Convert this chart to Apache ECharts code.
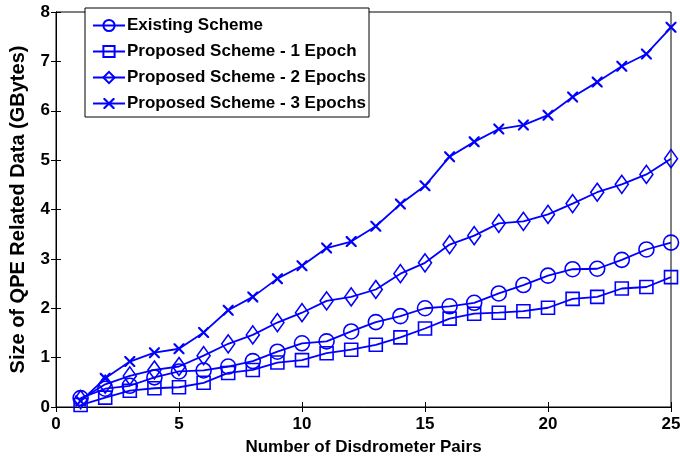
<!DOCTYPE html>
<html><head><meta charset="utf-8">
<script src="https://cdn.jsdelivr.net/npm/echarts@6/dist/echarts.min.js"></script>
<style>html,body{margin:0;padding:0;background:#fff}#c{width:680px;height:459px}</style>
</head><body><div id="c"></div>
<script>
const pairs = [1,2,3,4,5,6,7,8,9,10,11,12,13,14,15,16,17,18,19,20,21,22,23,24,25];
const existing = [0.18,0.37,0.43,0.60,0.72,0.74,0.82,0.93,1.12,1.29,1.33,1.53,1.72,1.84,2.00,2.04,2.11,2.30,2.47,2.66,2.79,2.80,2.98,3.19,3.33];
const epoch1 = [0.04,0.19,0.33,0.38,0.40,0.49,0.69,0.75,0.90,0.95,1.09,1.16,1.26,1.41,1.59,1.79,1.89,1.91,1.94,2.01,2.19,2.23,2.40,2.43,2.63];
const epoch2 = [0.15,0.46,0.63,0.75,0.82,1.04,1.28,1.46,1.71,1.91,2.15,2.23,2.38,2.70,2.92,3.29,3.47,3.72,3.76,3.90,4.12,4.35,4.51,4.71,5.03];
const epoch3 = [0.12,0.58,0.92,1.10,1.18,1.51,1.96,2.23,2.60,2.86,3.22,3.35,3.66,4.11,4.48,5.07,5.37,5.63,5.71,5.91,6.28,6.58,6.90,7.15,7.69];
const names = ['Existing Scheme','Proposed Scheme - 1 Epoch','Proposed Scheme - 2 Epochs','Proposed Scheme - 3 Epochs'];

const BLUE = '#0000ff';
const FONT = '"Liberation Sans", Arial, sans-serif';
const xPath = 'path://M0,0L1.4,0L5,3.6L8.6,0L10,0L10,1.4L6.4,5L10,8.6L10,10L8.6,10L5,6.4L1.4,10L0,10L0,8.6L3.6,5L0,1.4Z';
const zip = a => pairs.map((x,i)=>[x,a[i]]);
function hollow(name, data, symbol, size){
  return {name, type:'line', data: zip(data), symbol, symbolSize: size,
    lineStyle:{color:BLUE, width:1.8}, itemStyle:{color:'rgba(0,0,0,0)', borderColor:BLUE, borderWidth:1.6},
    emphasis:{disabled:true}, animation:false, z:2};
}
const series = [
  hollow(names[0], existing, 'circle', 15),
  hollow(names[1], epoch1, 'rect', 13),
  hollow(names[2], epoch2, 'diamond', [13,18]),
  {name:names[3], type:'line', data: zip(epoch3), symbol: xPath, symbolSize: 11,
    lineStyle:{color:BLUE, width:1.8}, itemStyle:{color:BLUE, borderWidth:0},
    emphasis:{disabled:true}, animation:false, z:2}
];
const labelStyle = {color:'#000', fontFamily:FONT, fontWeight:'bold', fontSize:17};
const chart = echarts.init(document.getElementById('c'));
chart.setOption({
  backgroundColor:'#fff',
  animation:false,
  grid:{left:56, right:9, top:12, bottom:52, outerBoundsMode:'none', containLabel:false,
        show:true, borderColor:'#000', borderWidth:1},
  legend:{
    data:names, orient:'vertical', left:85, top:8,
    itemWidth:32, itemHeight:14, itemGap:9,
    padding:[9,3,5,7], borderColor:'#000', borderWidth:1, backgroundColor:'#fff',
    textStyle:{color:'#000', fontFamily:FONT, fontWeight:'bold', fontSize:17, padding:[0,0,0,-3]}
  },
  xAxis:[
    {type:'value', min:0, max:25, interval:5,
     name:'Number of Disdrometer Pairs', nameLocation:'middle', nameGap:32,
     nameTextStyle:{color:'#000', fontFamily:FONT, fontWeight:'bold', fontSize:17},
     axisLine:{lineStyle:{color:'#000', width:1}}, axisTick:{inside:true, length:5, lineStyle:{color:'#000'}},
     axisLabel:Object.assign({margin:9}, labelStyle), splitLine:{show:false}},
    {type:'value', position:'top', min:0, max:25, interval:5,
     axisLine:{lineStyle:{color:'#000'}}, axisTick:{inside:true, length:5, lineStyle:{color:'#000'}},
     axisLabel:{show:false}, splitLine:{show:false}}
  ],
  yAxis:[
    {type:'value', min:0, max:8, interval:1,
     name:'Size of QPE Related Data (GBytes)', nameLocation:'middle', nameGap:28,
     nameTextStyle:{color:'#000', fontFamily:FONT, fontWeight:'bold', fontSize:20},
     axisLine:{lineStyle:{color:'#000', width:1}}, axisTick:{inside:true, length:5, lineStyle:{color:'#000'}},
     axisLabel:Object.assign({margin:6}, labelStyle), splitLine:{show:false}},
    {type:'value', position:'right', min:0, max:8, interval:1,
     axisLine:{lineStyle:{color:'#000'}}, axisTick:{inside:true, length:5, lineStyle:{color:'#000'}},
     axisLabel:{show:false}, splitLine:{show:false}}
  ],
  series
});
</script></body></html>
